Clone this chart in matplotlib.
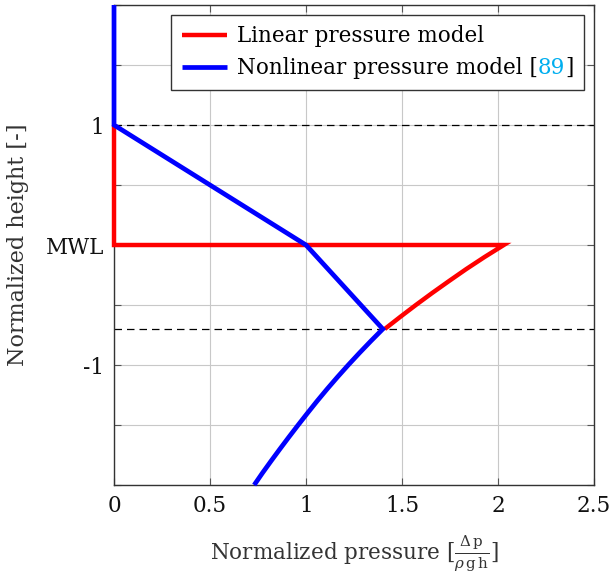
import matplotlib
matplotlib.use("Agg")
import matplotlib.pyplot as plt
from matplotlib.transforms import IdentityTransform

plt.rcParams['font.family'] = 'DejaVu Serif'
plt.rcParams['mathtext.fontset'] = 'dejavuserif'

# linear model: zero above MWL, peak at MWL, decaying below
lin_x = [0, 0, 2.03, 1.93, 1.835, 1.745, 1.657, 1.572, 1.49, 1.41]
lin_y = [1, 0, 0, -0.1, -0.2, -0.3, -0.4, -0.5, -0.6, -0.7]

# nonlinear model
nl_x = [0, 0, 1.0, 1.40, 1.338, 1.278, 1.220, 1.164, 1.110, 1.058, 1.008,
        0.959, 0.911, 0.864, 0.818, 0.773, 0.730]
nl_y = [2, 1, 0, -0.7, -0.8, -0.9, -1.0, -1.1, -1.2, -1.3, -1.4,
        -1.5, -1.6, -1.7, -1.8, -1.9, -2.0]

crest_y = 1.0
trough_y = -0.70

xticks = [0, 0.5, 1, 1.5, 2, 2.5]
xticklabels = ['0', '0.5', '1', '1.5', '2', '2.5']
yticks = [-2, -1.5, -1, -0.5, 0, 0.5, 1, 1.5, 2]
yticklabels = ['', '', '-1', '', 'MWL', '', '1', '', '']

FS = 15.5

fig = plt.figure(figsize=(6.11, 5.75), dpi=100)
ax = fig.add_axes([0.1866, 0.1565, 0.7856, 0.8348])

ax.axhline(crest_y, color='black', lw=0.9, ls=(0, (6, 4)), zorder=2)
ax.axhline(trough_y, color='black', lw=0.9, ls=(0, (6, 4)), zorder=2)

ax.plot(lin_x, lin_y, color='#ff0000', lw=3.2, solid_joinstyle='miter',
        solid_capstyle='butt', label='Linear pressure model', zorder=3,
        clip_on=False)
ax.plot(nl_x, nl_y, color='#0000ff', lw=3.4, solid_joinstyle='miter',
        solid_capstyle='butt', label='Nonlinear pressure model [89]', zorder=4,
        clip_on=False)

ax.set_xlim(0, 2.5)
ax.set_ylim(-2, 2)
ax.set_xticks(xticks)
ax.set_xticklabels(xticklabels)
ax.set_yticks(yticks)
ax.set_yticklabels(yticklabels)
ax.tick_params(direction='in', length=5, width=0.8, color='#555555',
               top=True, right=True, labelsize=FS, pad=7, labelcolor='#111111')
ax.grid(True, color='#c8c8c8', lw=0.8)
ax.set_axisbelow(True)
for s in ax.spines.values():
    s.set_color('#333333')
    s.set_linewidth(1.0)

ax.set_xlabel(r'Normalized pressure [$\frac{\Delta\,\mathrm{p}}{\rho\,\mathrm{g\,h}}$]',
              fontsize=FS, color='#333333', labelpad=12)
ax.set_ylabel('Normalized height [-]', fontsize=16, color='#333333', labelpad=12)

leg = ax.legend(loc='upper right', fontsize=FS, frameon=True, fancybox=False,
                edgecolor='#333333', framealpha=1, handlelength=2.1,
                handletextpad=0.45, borderaxespad=0.45, labelspacing=0.45,
                borderpad=0.5)
leg.get_frame().set_linewidth(1.0)
leg.set_zorder(20)

# second legend entry: write it in pieces so the citation number is coloured
fig.canvas.draw()
renderer = fig.canvas.get_renderer()
txt = leg.get_texts()[1]
bb = txt.get_window_extent(renderer)
txt.set_alpha(0)

x = bb.x0
for piece, col in [('Nonlinear pressure model [', 'black'),
                   ('89', '#00aeef'),
                   (']', 'black')]:
    t = fig.text(x, bb.y0, piece, fontsize=FS, color=col, ha='left',
                 va='bottom', transform=IdentityTransform(), zorder=30)
    x = t.get_window_extent(renderer).x1

fig.savefig('out.png', dpi=100)
